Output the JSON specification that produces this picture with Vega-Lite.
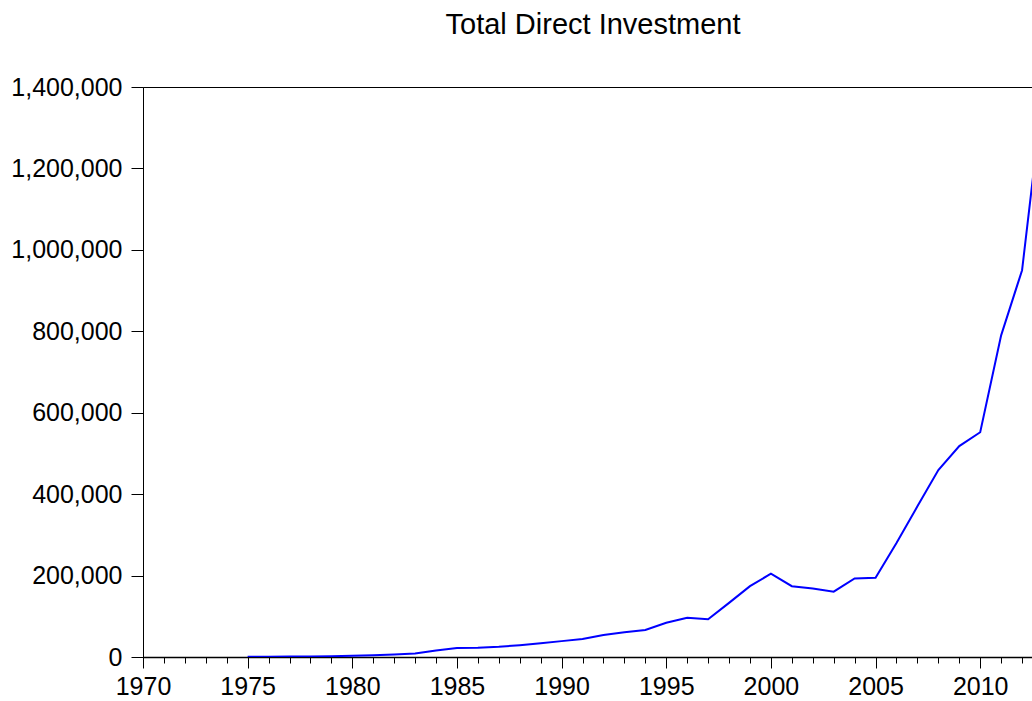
{
  "$schema": "https://vega.github.io/schema/vega-lite/v6.json",
  "autosize": {"type": "none"},
  "padding": {"left": 143, "top": 87, "right": 0, "bottom": 44},
  "width": 900,
  "height": 570,
  "background": "white",
  "title": {
    "text": "Total Direct Investment",
    "anchor": "middle",
    "font": "Liberation Sans",
    "fontSize": 29,
    "fontWeight": "normal",
    "color": "black",
    "offset": 35
  },
  "config": {
    "view": {"stroke": "black", "strokeWidth": 1},
    "axis": {
      "labelFont": "Liberation Sans",
      "labelColor": "black",
      "domainColor": "black",
      "tickColor": "black",
      "grid": false,
      "title": null
    }
  },
  "data": {
    "values": [
      {"year": 1975, "value": 500},
      {"year": 1976, "value": 700},
      {"year": 1977, "value": 1000},
      {"year": 1978, "value": 1400},
      {"year": 1979, "value": 2000},
      {"year": 1980, "value": 3000},
      {"year": 1981, "value": 4500},
      {"year": 1982, "value": 6000},
      {"year": 1983, "value": 8500},
      {"year": 1984, "value": 16000},
      {"year": 1985, "value": 22000},
      {"year": 1986, "value": 22500},
      {"year": 1987, "value": 25000},
      {"year": 1988, "value": 29000},
      {"year": 1989, "value": 34000},
      {"year": 1990, "value": 39000},
      {"year": 1991, "value": 44000},
      {"year": 1992, "value": 54000},
      {"year": 1993, "value": 61000},
      {"year": 1994, "value": 66500},
      {"year": 1995, "value": 84000},
      {"year": 1996, "value": 96500},
      {"year": 1997, "value": 92500},
      {"year": 1998, "value": 133000},
      {"year": 1999, "value": 174000},
      {"year": 2000, "value": 204600},
      {"year": 2001, "value": 174000},
      {"year": 2002, "value": 168000},
      {"year": 2003, "value": 160500},
      {"year": 2004, "value": 193000},
      {"year": 2005, "value": 194800},
      {"year": 2006, "value": 280000},
      {"year": 2007, "value": 370000},
      {"year": 2008, "value": 459000},
      {"year": 2009, "value": 518000},
      {"year": 2010, "value": 552000},
      {"year": 2011, "value": 790000},
      {"year": 2012, "value": 950000},
      {"year": 2013, "value": 1388000}
    ]
  },
  "mark": {"type": "line", "color": "#0000FF", "strokeWidth": 2, "clip": true},
  "encoding": {
    "x": {
      "field": "year",
      "type": "quantitative",
      "scale": {"domain": [1970, 2013], "nice": false, "zero": false},
      "axis": {
        "values": [1970,1971,1972,1973,1974,1975,1976,1977,1978,1979,1980,1981,1982,1983,1984,1985,1986,1987,1988,1989,1990,1991,1992,1993,1994,1995,1996,1997,1998,1999,2000,2001,2002,2003,2004,2005,2006,2007,2008,2009,2010,2011,2012,2013],
        "labelExpr": "datum.value % 5 === 0 ? datum.value + '' : ''",
        "tickSize": {"condition": {"test": "datum.value % 5 === 0", "value": 11}, "value": 6},
        "labelFontSize": 25,
        "labelPadding": 6,
        "labelOverlap": false,
        "labelFlush": false,
        "domainWidth": 1.5
      }
    },
    "y": {
      "field": "value",
      "type": "quantitative",
      "scale": {"domain": [0, 1400000], "nice": false},
      "axis": {
        "values": [0, 200000, 400000, 600000, 800000, 1000000, 1200000, 1400000],
        "format": ",.0f",
        "tickSize": 12,
        "labelPadding": 9,
        "labelFontSize": 25
      }
    }
  }
}
